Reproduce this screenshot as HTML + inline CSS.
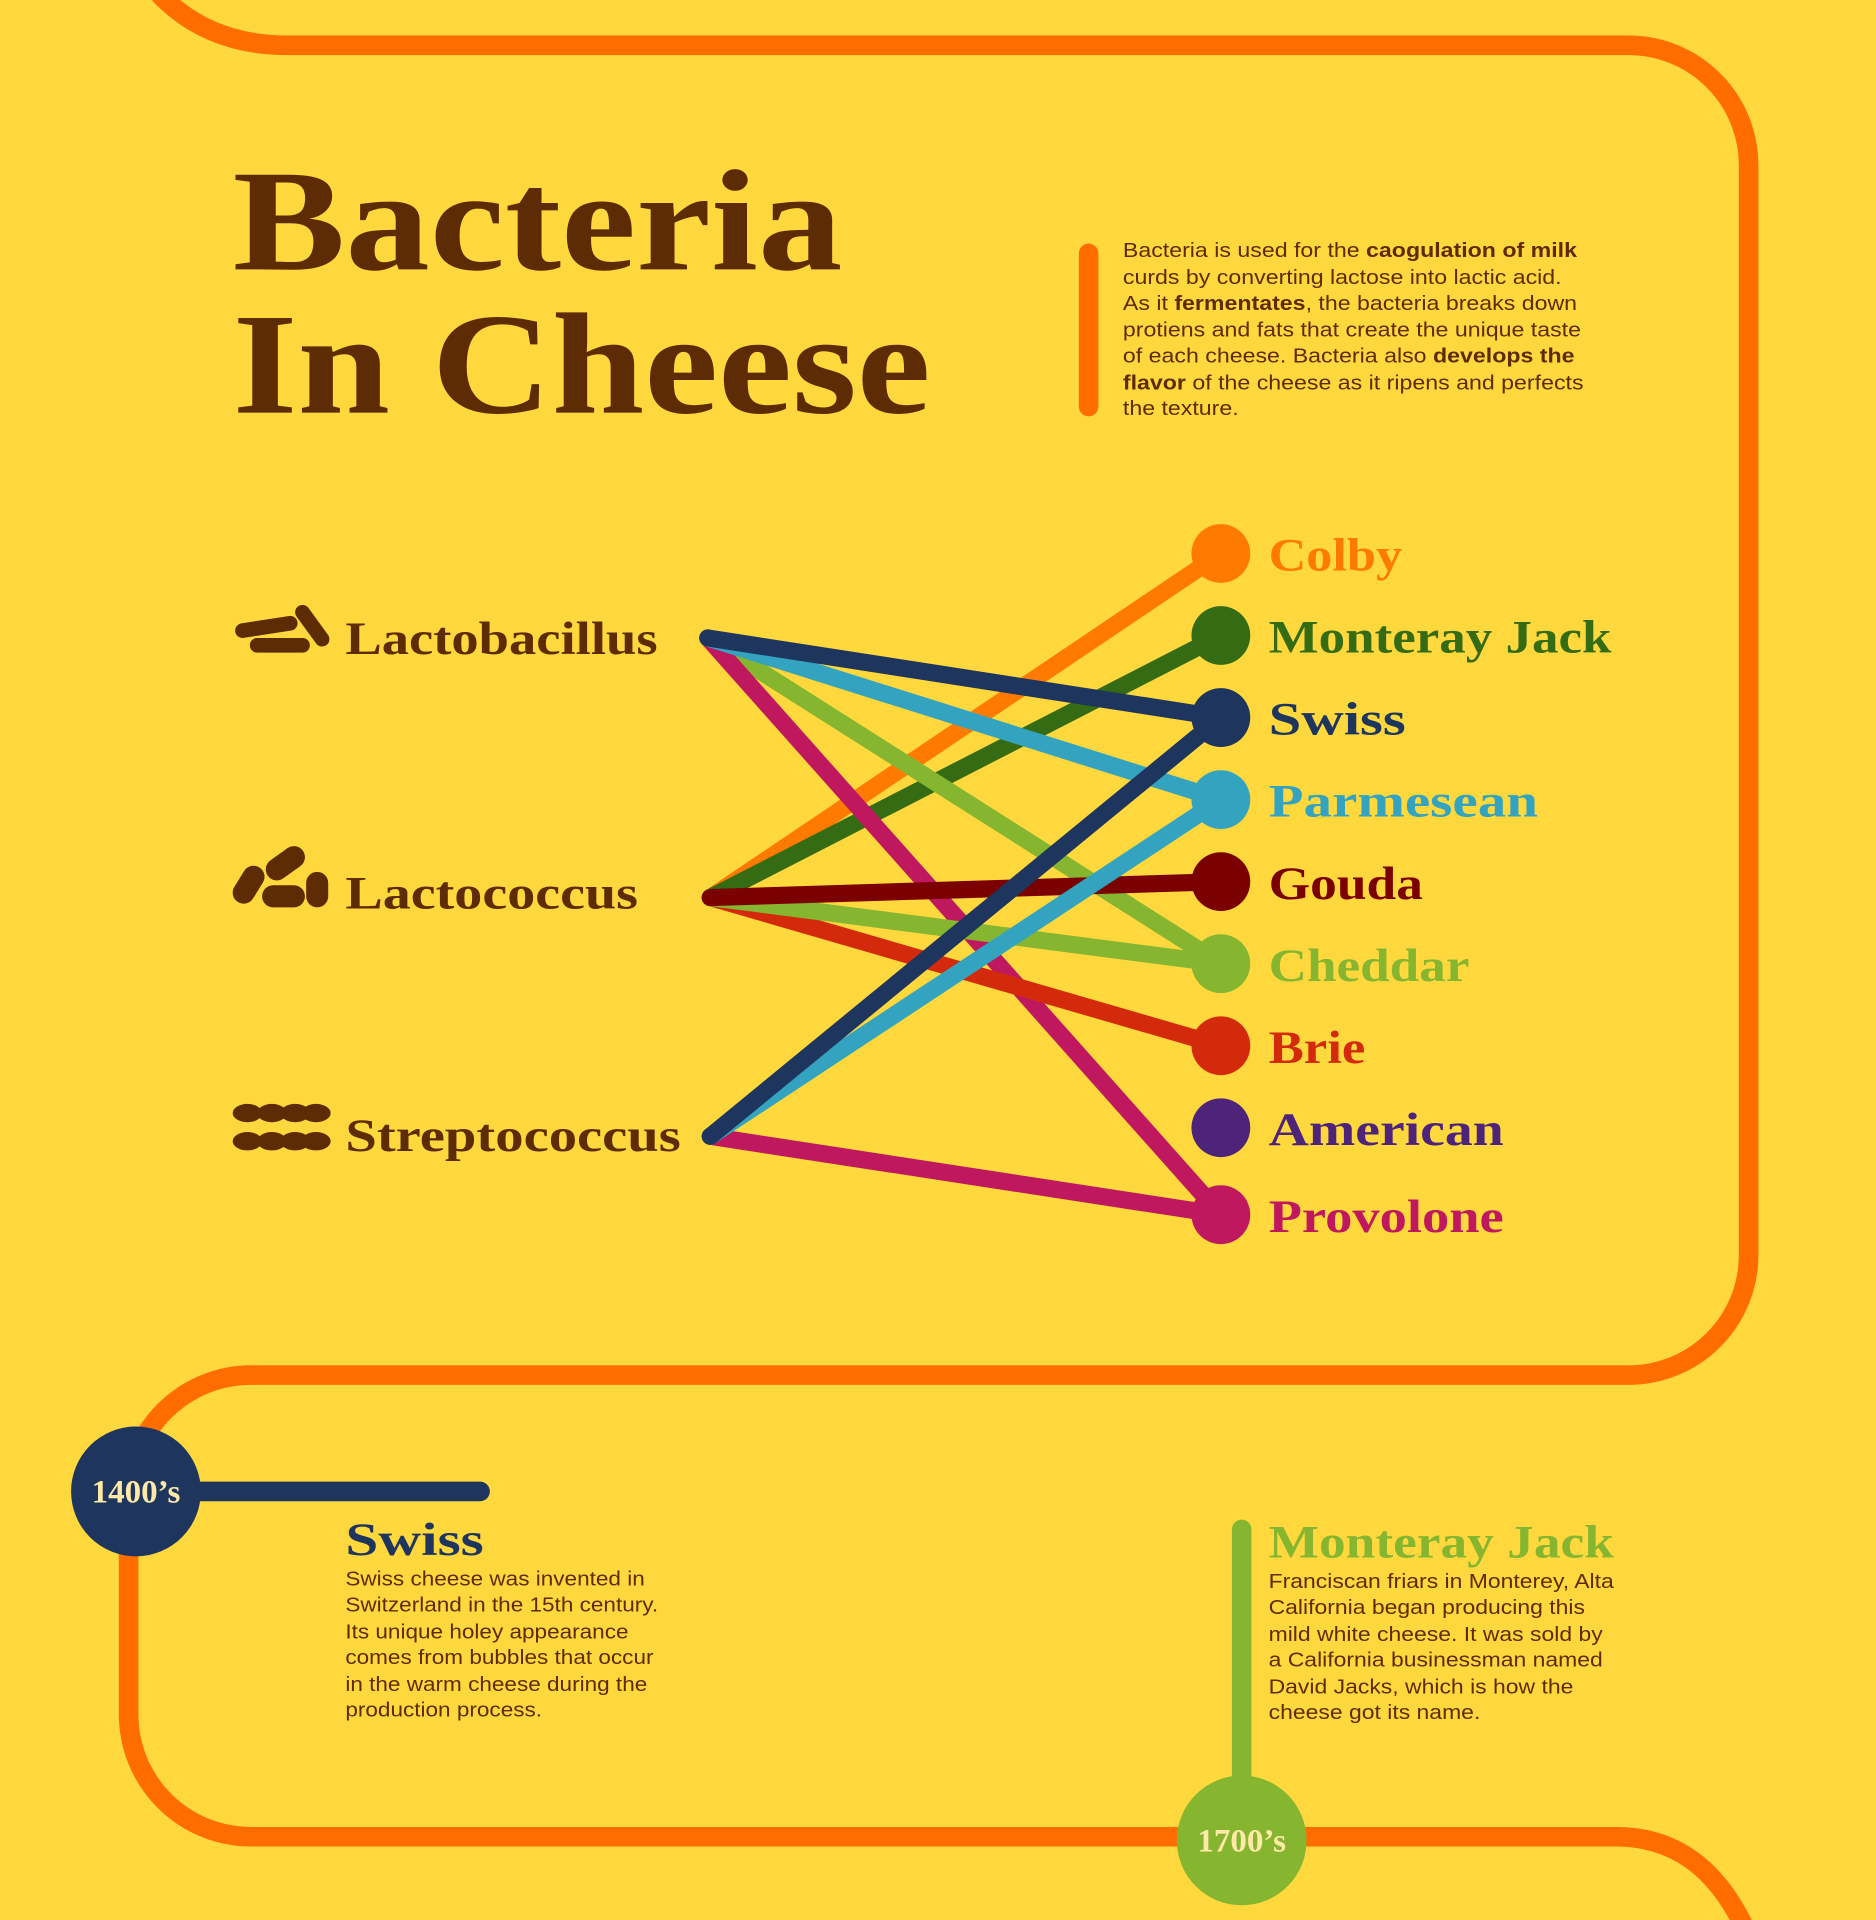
<!DOCTYPE html>
<html><head><meta charset="utf-8"><style>
html,body{margin:0;padding:0;background:#FFD83D;}
svg{display:block}
.t{font-family:"Liberation Serif",serif;font-weight:bold}
.s{font-family:"Liberation Sans",sans-serif;font-size:16.3px;fill:#5E2C04}
</style></head><body>
<svg width="1876" height="1920" viewBox="0 0 1532 1568" xmlns="http://www.w3.org/2000/svg">
<rect width="1532" height="1568" fill="#FFD83D"/>
<path d="M130,-5 Q170,37 235,37 L1330,37 A98,98 0 0 1 1428,135 L1428,1025 A98,98 0 0 1 1330,1123 L205,1123 A100,100 0 0 0 105,1223 L105,1400 A100,100 0 0 0 205,1500 L1320,1500 Q1390,1500 1425,1575" fill="none" stroke="#FF6D00" stroke-width="16"/>
<text class="t" x="190" y="220" font-size="118" fill="#5E2C04" textLength="498" lengthAdjust="spacingAndGlyphs">Bacteria</text>
<text class="t" x="190" y="337" font-size="118" fill="#5E2C04" textLength="570" lengthAdjust="spacingAndGlyphs">In Cheese</text>
<line x1="889" y1="207" x2="889" y2="332" stroke="#FF6D00" stroke-width="16" stroke-linecap="round"/>
<g transform="translate(917,0) scale(1.16,1) translate(-917,0)">
<text class="s"><tspan x="917" y="210">Bacteria is used for the <tspan font-weight="bold">caogulation of milk</tspan></tspan><tspan x="917" y="232">curds by converting lactose into lactic acid.</tspan><tspan x="917" y="253">As it <tspan font-weight="bold">fermentates</tspan>, the bacteria breaks down</tspan><tspan x="917" y="275">protiens and fats that create the unique taste</tspan><tspan x="917" y="296">of each cheese. Bacteria also <tspan font-weight="bold">develops the</tspan></tspan><tspan x="917" y="318"><tspan font-weight="bold">flavor</tspan> of the cheese as it ripens and perfects</tspan><tspan x="917" y="339">the texture.</tspan></text>
</g>
<g stroke-width="14" stroke-linecap="round" fill="none">
<line x1="580" y1="733" x2="997" y2="452" stroke="#FF7A00"/>
<line x1="580" y1="733" x2="997" y2="519" stroke="#356B12"/>
<line x1="578" y1="521" x2="997" y2="787" stroke="#86B630"/>
<line x1="578" y1="521" x2="997" y2="992" stroke="#C0185E"/>
<line x1="578" y1="521" x2="997" y2="653" stroke="#33A3BF"/>
<line x1="578" y1="521" x2="997" y2="586" stroke="#1E355E"/>
<line x1="580" y1="733" x2="997" y2="854" stroke="#D42A0C"/>
<line x1="580" y1="733" x2="997" y2="787" stroke="#86B630"/>
<line x1="580" y1="733" x2="997" y2="720" stroke="#7B0000"/>
<line x1="580" y1="928" x2="997" y2="992" stroke="#C0185E"/>
<line x1="580" y1="928" x2="997" y2="653" stroke="#33A3BF"/>
<line x1="580" y1="928" x2="997" y2="586" stroke="#1E355E"/>
</g>
<g class="t" font-size="38">
<circle cx="997" cy="452" r="24" fill="#FF7A00"/><text x="1036" y="466" fill="#FF7A00" textLength="109" lengthAdjust="spacingAndGlyphs">Colby</text>
<circle cx="997" cy="519" r="24" fill="#356B12"/><text x="1036" y="533" fill="#356B12" textLength="280" lengthAdjust="spacingAndGlyphs">Monteray Jack</text>
<circle cx="997" cy="586" r="24" fill="#1E355E"/><text x="1036" y="600" fill="#1E355E" textLength="112" lengthAdjust="spacingAndGlyphs">Swiss</text>
<circle cx="997" cy="653" r="24" fill="#33A3BF"/><text x="1036" y="667" fill="#33A3BF" textLength="220" lengthAdjust="spacingAndGlyphs">Parmesean</text>
<circle cx="997" cy="720" r="24" fill="#7B0000"/><text x="1036" y="734" fill="#7B0000" textLength="126" lengthAdjust="spacingAndGlyphs">Gouda</text>
<circle cx="997" cy="787" r="24" fill="#86B630"/><text x="1036" y="801" fill="#86B630" textLength="164" lengthAdjust="spacingAndGlyphs">Cheddar</text>
<circle cx="997" cy="854" r="24" fill="#D42A0C"/><text x="1036" y="868" fill="#D42A0C" textLength="79" lengthAdjust="spacingAndGlyphs">Brie</text>
<circle cx="997" cy="921" r="24" fill="#4E237A"/><text x="1036" y="935" fill="#4E237A" textLength="192" lengthAdjust="spacingAndGlyphs">American</text>
<circle cx="997" cy="992" r="24" fill="#C0185E"/><text x="1036" y="1006" fill="#C0185E" textLength="192" lengthAdjust="spacingAndGlyphs">Provolone</text>
<text x="282" y="534" fill="#5E2C04" textLength="255" lengthAdjust="spacingAndGlyphs">Lactobacillus</text>
<text x="282" y="742" fill="#5E2C04" textLength="239" lengthAdjust="spacingAndGlyphs">Lactococcus</text>
<text x="282" y="940" fill="#5E2C04" textLength="274" lengthAdjust="spacingAndGlyphs">Streptococcus</text>
</g>
<g stroke="#5E2C04" stroke-linecap="round" fill="none">
<line x1="198" y1="515" x2="237" y2="509" stroke-width="12"/>
<line x1="210" y1="527" x2="247" y2="527" stroke-width="12"/>
<line x1="247" y1="500" x2="263" y2="522" stroke-width="12"/>
<line x1="199" y1="729" x2="207" y2="716" stroke-width="18"/>
<line x1="226" y1="710" x2="240" y2="700" stroke-width="18"/>
<line x1="223" y1="732" x2="240" y2="732" stroke-width="18"/>
<line x1="259" y1="721" x2="259" y2="732" stroke-width="18"/>
</g>
<g fill="#5E2C04">
<ellipse cx="202" cy="909" rx="12" ry="7.5"/><ellipse cx="222" cy="909" rx="12" ry="7.5"/><ellipse cx="241" cy="909" rx="12" ry="7.5"/><ellipse cx="258" cy="909" rx="12" ry="7.5"/>
<ellipse cx="202" cy="932" rx="12" ry="7.5"/><ellipse cx="222" cy="932" rx="12" ry="7.5"/><ellipse cx="241" cy="932" rx="12" ry="7.5"/><ellipse cx="258" cy="932" rx="12" ry="7.5"/>
</g>
<line x1="111" y1="1218" x2="392" y2="1218" stroke="#1E355E" stroke-width="16" stroke-linecap="round"/>
<circle cx="111" cy="1218" r="53" fill="#1E355E"/>
<text class="t" x="111" y="1227" font-size="27" fill="#FFE9A8" text-anchor="middle">1400’s</text>
<text class="t" x="282" y="1270" font-size="38" fill="#1E355E" textLength="113" lengthAdjust="spacingAndGlyphs">Swiss</text>
<g transform="translate(282,0) scale(1.13,1) translate(-282,0)">
<text class="s"><tspan x="282" y="1295">Swiss cheese was invented in</tspan><tspan x="282" y="1316">Switzerland in the 15th century.</tspan><tspan x="282" y="1338">Its unique holey appearance</tspan><tspan x="282" y="1359">comes from bubbles that occur</tspan><tspan x="282" y="1381">in the warm cheese during the</tspan><tspan x="282" y="1402">production process.</tspan></text>
</g>
<line x1="1014" y1="1249" x2="1014" y2="1470" stroke="#86B630" stroke-width="16" stroke-linecap="round"/>
<circle cx="1014" cy="1503" r="53" fill="#86B630"/>
<text class="t" x="1014" y="1512" font-size="27" fill="#FFE9A8" text-anchor="middle">1700’s</text>
<text class="t" x="1036" y="1272" font-size="38" fill="#86B630" textLength="282" lengthAdjust="spacingAndGlyphs">Monteray Jack</text>
<g transform="translate(1036,0) scale(1.15,1) translate(-1036,0)">
<text class="s"><tspan x="1036" y="1297">Franciscan friars in Monterey, Alta</tspan><tspan x="1036" y="1318">California began producing this</tspan><tspan x="1036" y="1340">mild white cheese. It was sold by</tspan><tspan x="1036" y="1361">a California businessman named</tspan><tspan x="1036" y="1383">David Jacks, which is how the</tspan><tspan x="1036" y="1404">cheese got its name.</tspan></text>
</g>
</svg>
</body></html>
